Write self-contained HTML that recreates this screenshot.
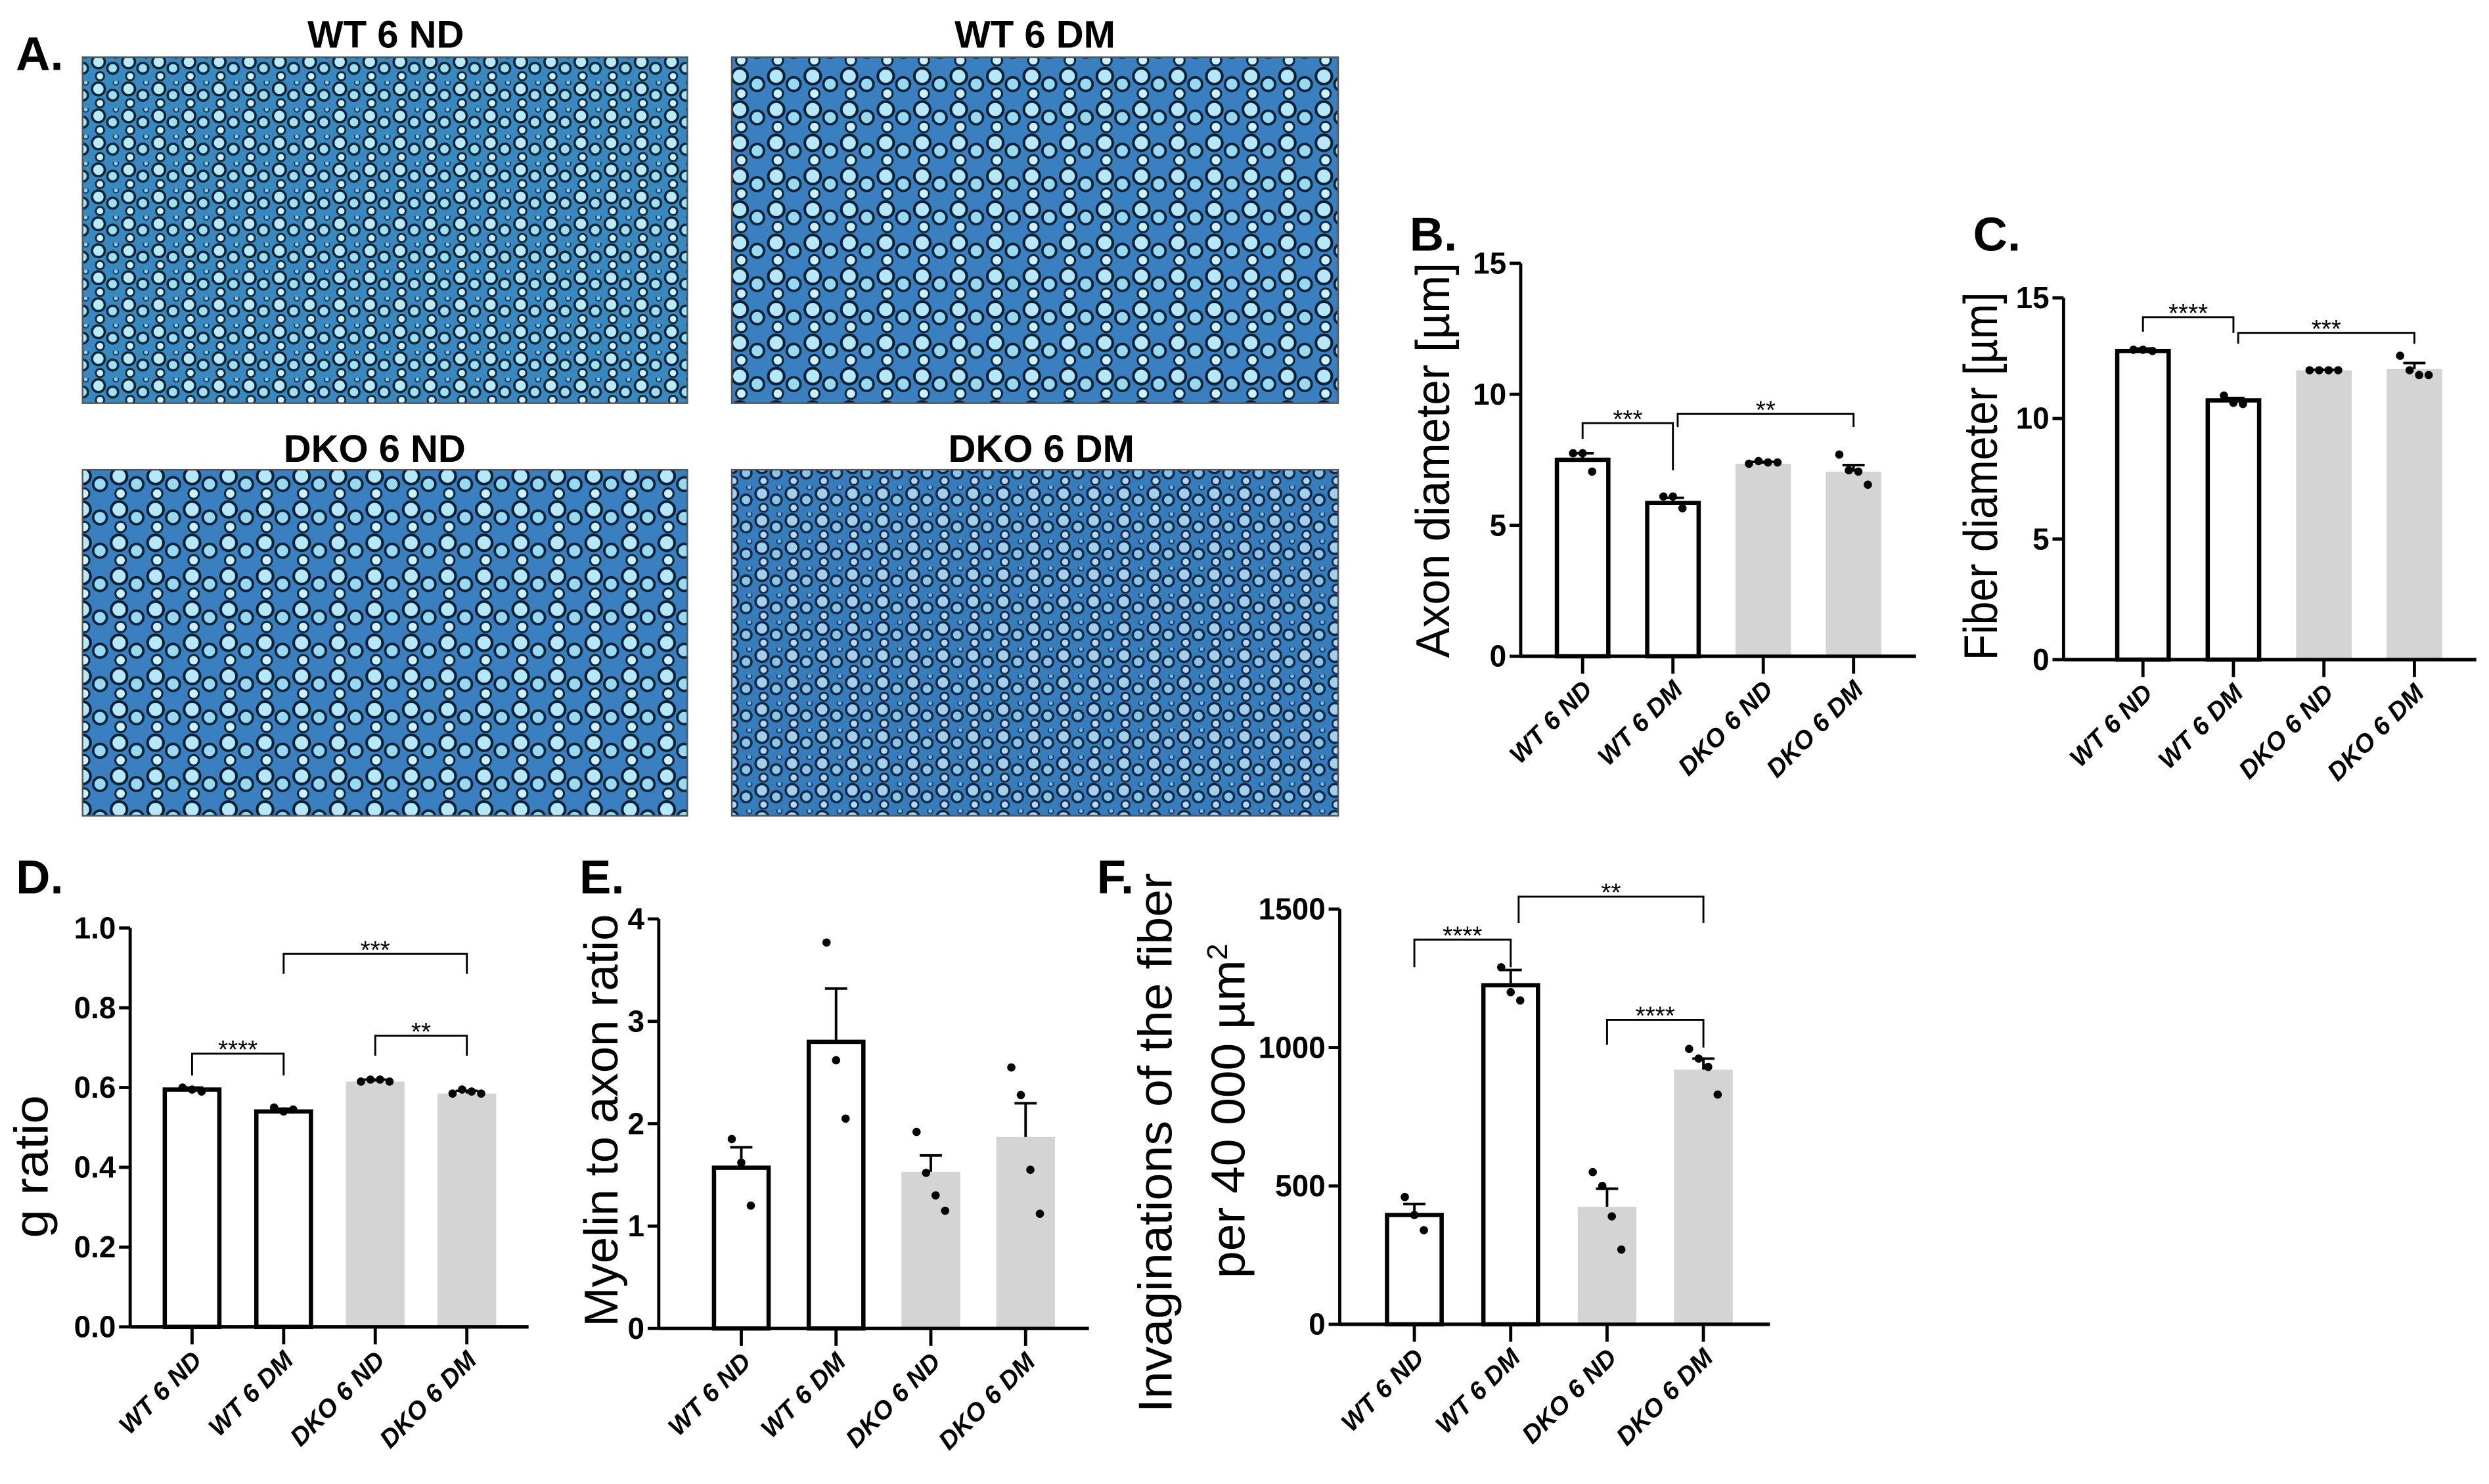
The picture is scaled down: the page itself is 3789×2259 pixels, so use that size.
<!DOCTYPE html>
<html><head><meta charset="utf-8"><style>
html,body{margin:0;padding:0;background:#fff;}
svg{display:block;}
text{font-family:"Liberation Sans",sans-serif;}
.tick{font-family:"Liberation Sans Narrow","Liberation Sans",sans-serif;font-weight:bold;font-size:19px;}
.xl{font-family:"Liberation Sans",sans-serif;font-weight:bold;font-style:italic;font-size:16px;}
.panel{font-family:"Liberation Sans Narrow","Liberation Sans",sans-serif;font-weight:bold;font-size:30px;}
.ttl{font-family:"Liberation Sans Narrow","Liberation Sans",sans-serif;font-weight:bold;font-size:24px;}
</style></head><body>
<svg id="fig" width="3789" height="2259" viewBox="0 0 1568 935" preserveAspectRatio="none" xmlns="http://www.w3.org/2000/svg">
<defs>
<pattern id="cells" width="19" height="17" patternUnits="userSpaceOnUse">
<rect width="19" height="17" fill="#3a88c0"/>
<circle cx="5" cy="5" r="4" fill="#b8eafa" stroke="#0d2233" stroke-width="1.5"/>
<circle cx="14" cy="9" r="3.4" fill="#9fe0f5" stroke="#10283a" stroke-width="1.5"/>
<circle cx="6" cy="14" r="2.6" fill="#d0f3ff" stroke="#12293a" stroke-width="1.2"/>
<circle cx="16" cy="1" r="1.6" fill="#8fd3ef" stroke="#1a3550" stroke-width="0.8"/>
</pattern>
<pattern id="cells2" width="23" height="21" patternUnits="userSpaceOnUse">
<rect width="23" height="21" fill="#3a80c0"/>
<circle cx="6" cy="6" r="5" fill="#b5e8fa" stroke="#0b1f33" stroke-width="1.7"/>
<circle cx="17" cy="11" r="4.3" fill="#98d9f4" stroke="#0e2337" stroke-width="1.6"/>
<circle cx="7" cy="17" r="3.3" fill="#ccf1ff" stroke="#10253a" stroke-width="1.3"/>
</pattern>
</defs>

<text class="panel" x="10" y="44">A.</text>
<text class="ttl" x="243" y="30" text-anchor="middle">WT 6 ND</text>
<text class="ttl" x="652" y="30" text-anchor="middle">WT 6 DM</text>
<text class="ttl" x="236" y="291" text-anchor="middle">DKO 6 ND</text>
<text class="ttl" x="656" y="291" text-anchor="middle">DKO 6 DM</text>
<rect x="52" y="36" width="381" height="218" fill="url(#cells)" stroke="#555" stroke-width="1"/>
<rect x="461" y="36" width="382" height="218" fill="url(#cells2)" stroke="#555" stroke-width="1"/>
<rect x="52" y="296" width="381" height="218" fill="url(#cells2)" stroke="#555" stroke-width="1"/>
<rect x="461" y="296" width="382" height="218" fill="url(#cells)" stroke="#555" stroke-width="1"/>
<rect x="461" y="296" width="382" height="218" fill="#2a3aa0" opacity="0.15"/>

<text class="panel" x="888" y="158">B.</text>
<text class="panel" x="1243" y="158">C.</text>
<text class="panel" x="10" y="563">D.</text>
<text class="panel" x="365" y="563">E.</text>
<text class="panel" x="691" y="563">F.</text>
<g id="charts"></g>
</svg>
<script>
var NS="http://www.w3.org/2000/svg";
var categories=["WT 6 ND","WT 6 DM","DKO 6 ND","DKO 6 DM"];
var catLabelsB=["WT 6  ND","WT 6 DM","DKO 6 ND","DKO 6 DM"];
// B axon diameter
var bMeans=[7.5,5.85,7.35,7.05];
var bErr=[7.75,6.05,7.42,7.3];
var bPoints=[[7.75,7.75,7.05],[6.1,6.1,5.65],[7.35,7.45,7.4,7.4],[7.7,7.1,7.05,6.55]];
var bTicks=[0,5,10,15];
// C fiber diameter
var cMeans=[12.8,10.75,12.0,12.05];
var cErr=[12.9,10.85,12.02,12.3];
var cPoints=[[12.85,12.85,12.8],[10.95,10.65,10.6],[12,12,12,12],[12.6,12.0,11.8,11.8]];
var cTicks=[0,5,10,15];
// D g ratio
var dMeans=[0.595,0.54,0.615,0.585];
var dErr=[0.6,0.547,0.62,0.592];
var dPoints=[[0.6,0.595,0.59],[0.55,0.54,0.545],[0.615,0.62,0.62,0.615],[0.585,0.595,0.59,0.585]];
var dTicks=[0,0.2,0.4,0.6,0.8,1.0];
var dTickLabels=["0.0","0.2","0.4","0.6","0.8","1.0"];
// E myelin to axon
var eMeans=[1.57,2.8,1.53,1.87];
var eErr=[1.77,3.32,1.69,2.2];
var ePoints=[[1.85,1.62,1.2],[3.77,2.62,2.05],[1.92,1.52,1.3,1.15],[2.55,2.28,1.55,1.12]];
var eTicks=[0,1,2,3,4];
// F invaginations
var fMeans=[395,1225,425,920];
var fErr=[435,1280,490,960];
var fPoints=[[460,395,340],[1290,1200,1170],[550,500,390,270],[995,960,930,830]];
var fTicks=[0,500,1000,1500];

var root=document.getElementById('charts');
function mk(tag,attrs,parent){var e=document.createElementNS(NS,tag);for(var k in attrs)e.setAttribute(k,attrs[k]);(parent||root).appendChild(e);return e;}

function chart(cfg){
  var g=mk('g',{});
  
  
  function y(v){return cfg.y0-(v-cfg.vmin)/(cfg.vmax-cfg.vmin)*(cfg.y0-cfg.y1);}
  function x(i){return cfg.xc[0]+i*cfg.step;}
  cfg.means.forEach(function(m,i){
    var hollow=i<2, w=cfg.bw;
    var r;
    if(hollow){r=mk('rect',{x:x(i)-w/2+1.3,y:y(m),width:w-2.6,height:cfg.y0-y(m),fill:'#fff',stroke:'#000','stroke-width':2.7},g);}
    else{r=mk('rect',{x:x(i)-w/2,y:y(m),width:w,height:cfg.y0-y(m),fill:'#d4d4d4'},g);}
    
    
    var e=mk('path',{d:'M'+x(i)+' '+y(m)+'V'+y(cfg.err[i])+'M'+(x(i)-7)+' '+y(cfg.err[i])+'H'+(x(i)+7),stroke:'#000','stroke-width':1.6,fill:'none'},g);
    
    
    var pts=cfg.points[i],n=pts.length;
    pts.forEach(function(p,j){
      var c=mk('circle',{cx:x(i)+(j-(n-1)/2)*6,cy:y(p),r:2.6,fill:'#000'},g);
      
      
    });
  });
  var ya=mk('path',{d:'M'+cfg.ax+' '+(y(cfg.vmax))+'V'+cfg.y0,stroke:'#000','stroke-width':2,fill:'none'},g);
  
  
  var xa=mk('path',{d:'M'+cfg.ax+' '+cfg.y0+'H'+cfg.axEnd,stroke:'#000','stroke-width':2.2,fill:'none'},g);
  
  
  cfg.ticks.forEach(function(t,k){
    mk('path',{d:'M'+(cfg.ax-7)+' '+y(t)+'H'+cfg.ax,stroke:'#000','stroke-width':2},g);
    var tx=mk('text',{'class':'tick',x:cfg.ax-9,y:y(t)+6.5,'text-anchor':'end'},g);
    tx.textContent=cfg.tickLabels?cfg.tickLabels[k]:String(t);
    
    
  });
  cfg.cats.forEach(function(c,i){
    mk('path',{d:'M'+x(i)+' '+cfg.y0+'V'+(cfg.y0+11),stroke:'#000','stroke-width':2},g);
    var t=mk('text',{'class':'xl',x:0,y:0,'text-anchor':'end',transform:'translate('+(x(i)+7)+','+(cfg.y0+22)+') rotate(-45)'},g);
    t.textContent=c;
    
    
  });
  cfg.ylab.forEach(function(l,k){
    var t=mk('text',{x:0,y:0,'text-anchor':'middle','font-size':cfg.ysize,textLength:cfg.ylen[k],lengthAdjust:'spacingAndGlyphs',transform:'translate('+(cfg.ylx+k*cfg.ylGap)+','+cfg.yly[k]+') rotate(-90)'},g);
    t.innerHTML=l;
    
    
  });
  (cfg.sig||[]).forEach(function(s){
    var xa1=x(s[0])+(s[5]||0),xb=x(s[1]);
    var p=mk('path',{d:'M'+xa1+' '+y(s[3])+'V'+y(s[2])+'H'+xb+'V'+y(s[4]),stroke:'#000','stroke-width':1.2,fill:'none'},g);
    
    
    var t=mk('text',{x:(xa1+xb)/2,y:y(s[2])+3,'text-anchor':'middle','font-size':16},g);
    t.textContent=s[6];
    
    
  });
}
chart({key:'b',name:'axon-diameter-chart',means:bMeans,err:bErr,points:bPoints,ticks:bTicks,cats:catLabelsB,vmin:0,vmax:15,y0:413.5,y1:165.9,ax:958,axEnd:1207,xc:[997],step:56.9,bw:35,ylab:['Axon diameter [µm]'],ylen:[249],ysize:30,ylx:913,yly:[290],ylGap:0,
 sig:[[0,1,8.9,8.3,7.1,0,'***'],[1,3,9.25,8.75,8.75,3,'**']]});
chart({key:'c',name:'fiber-diameter-chart',means:cMeans,err:cErr,points:cPoints,ticks:cTicks,cats:categories,vmin:0,vmax:15,y0:415.6,y1:187.7,ax:1300,axEnd:1560,xc:[1350],step:57,bw:35,ylab:['Fiber diameter [µm]'],ylen:[232],ysize:30,ylx:1258,yly:[300],ylGap:0,
 sig:[[0,1,14.2,13.6,13.55,0,'****'],[1,3,13.55,13.1,13.1,3,'***']]});
chart({key:'d',name:'g-ratio-chart',means:dMeans,err:dErr,points:dPoints,ticks:dTicks,tickLabels:dTickLabels,cats:categories,vmin:0,vmax:1,y0:836,y1:584.7,ax:82,axEnd:333,xc:[121],step:57.7,bw:37,ylab:['g ratio'],ylen:[90],ysize:30,ylx:30,yly:[735],ylGap:0,
 sig:[[0,1,0.685,0.63,0.63,0,'****'],[2,3,0.73,0.68,0.68,0,'**'],[1,3,0.935,0.885,0.885,0,'***']]});
chart({key:'e',name:'myelin-axon-ratio-chart',means:eMeans,err:eErr,points:ePoints,ticks:eTicks,cats:categories,vmin:0,vmax:4,y0:837,y1:579,ax:415,axEnd:686,xc:[467],step:59.7,bw:37,ylab:['Myelin to axon ratio'],ylen:[260],ysize:30,ylx:389,yly:[706],ylGap:0});
chart({key:'f',name:'invaginations-chart',means:fMeans,err:fErr,points:fPoints,ticks:fTicks,cats:categories,vmin:0,vmax:1500,y0:834.4,y1:572.8,ax:844,axEnd:1115,xc:[891],step:60.7,bw:37,ylab:['Invaginations of the fiber','per 40 000 µm<tspan dy="-11" font-size="18">2</tspan>'],ylen:[340,211],ysize:30,ylx:738,yly:[720,700],ylGap:46,
 sig:[[0,1,1390,1290,1290,0,'****'],[1,3,1545,1450,1450,5,'**'],[2,3,1100,1010,1000,0,'****']]});
</script>
</body></html>
